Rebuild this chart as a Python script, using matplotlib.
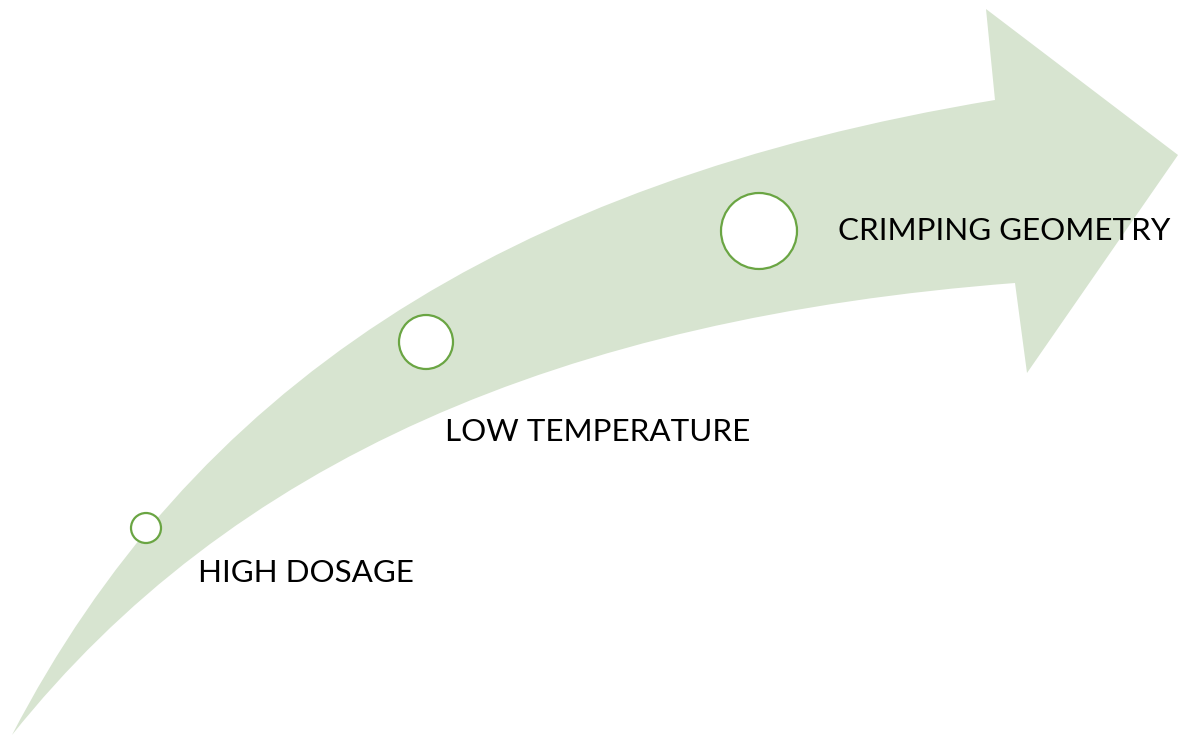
import matplotlib
matplotlib.use("Agg")
import matplotlib.pyplot as plt
from matplotlib.path import Path
from matplotlib.patches import PathPatch, Circle

# arrow outline (pixel space, y down)
tail = (12, 735)
upper_ctrl = [(190, 392), (500, 182)]
head_base_upper = (995, 100)
head_top = (986, 9)
head_tip = (1178, 155)
head_bottom = (1027, 373)
head_base_lower = (1015, 283)
lower_ctrl = [(560, 318), (230, 462)]

# milestones
labels = ["HIGH DOSAGE", "LOW TEMPERATURE", "CRIMPING GEOMETRY"]
circle_x = [146, 426, 759]
circle_y = [528, 342, 231]
circle_r = [15, 27, 38]
label_x = [198, 445, 838]
label_y = [573, 432, 231]

fig = plt.figure(figsize=(11.85, 7.35), dpi=100)
ax = fig.add_axes([0, 0, 1, 1])
ax.set_xlim(0, 1185)
ax.set_ylim(735, 0)
ax.axis("off")

verts = [tail, upper_ctrl[0], upper_ctrl[1], head_base_upper,
         head_top, head_tip, head_bottom, head_base_lower,
         lower_ctrl[0], lower_ctrl[1], tail, tail]
codes = [Path.MOVETO, Path.CURVE4, Path.CURVE4, Path.CURVE4,
         Path.LINETO, Path.LINETO, Path.LINETO, Path.LINETO,
         Path.CURVE4, Path.CURVE4, Path.CURVE4, Path.CLOSEPOLY]
ax.add_patch(PathPatch(Path(verts, codes), facecolor="#d7e4d0", edgecolor="none"))

for cx, cy, r in zip(circle_x, circle_y, circle_r):
    ax.add_patch(Circle((cx, cy), r, facecolor="white", edgecolor="#6aa543", linewidth=1.6))

for t, x, y in zip(labels, label_x, label_y):
    ax.text(x, y, t, fontsize=22.6, family="Lato", color="black", ha="left", va="center")

fig.savefig("out.png", dpi=100)
